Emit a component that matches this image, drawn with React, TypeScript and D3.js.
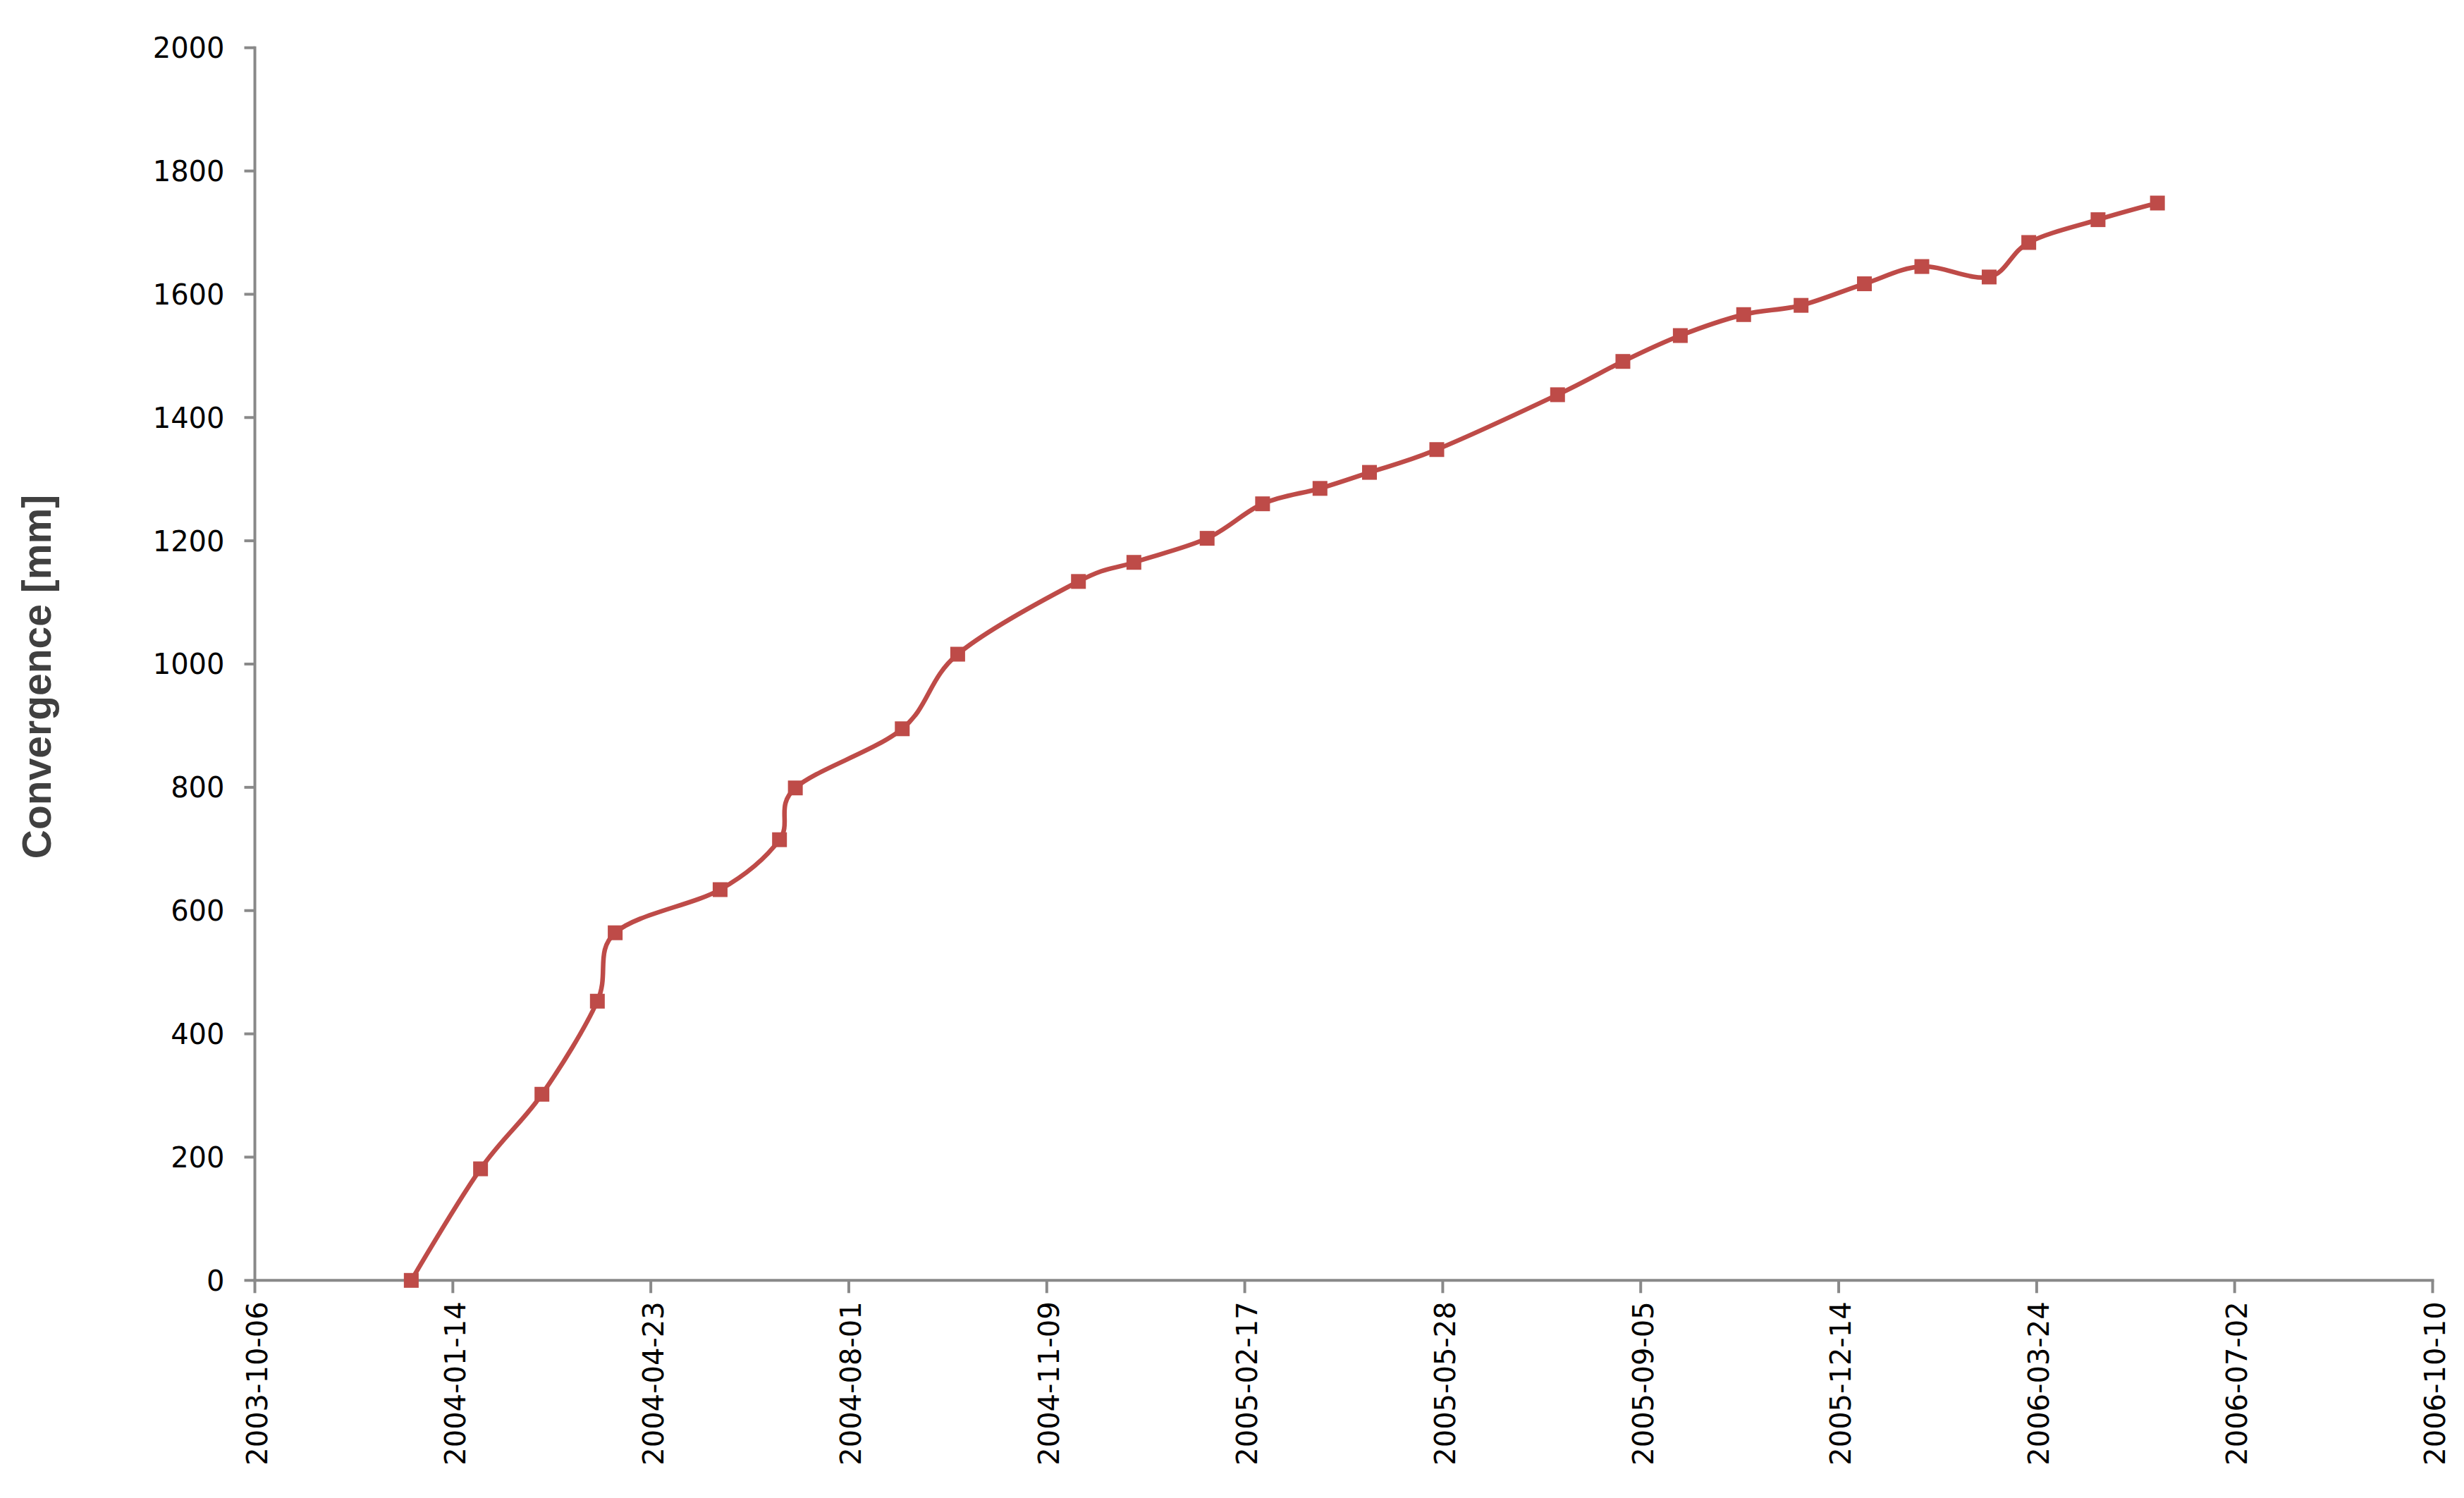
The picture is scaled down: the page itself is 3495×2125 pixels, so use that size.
import React from "react";
import * as d3 from "d3";

const measureDates: string[] = [
  "2003-12-24", "2004-01-28", "2004-02-28", "2004-03-27", "2004-04-05",
  "2004-05-28", "2004-06-27", "2004-07-05", "2004-08-28", "2004-09-25",
  "2004-11-25", "2004-12-23", "2005-01-29", "2005-02-26", "2005-03-27",
  "2005-04-21", "2005-05-25", "2005-07-25", "2005-08-27", "2005-09-25",
  "2005-10-27", "2005-11-25", "2005-12-27", "2006-01-25", "2006-02-28",
  "2006-03-20", "2006-04-24", "2006-05-24",
];

const convergence: number[] = [
  0, 181, 302, 453, 564, 634, 715, 799, 895, 1016,
  1134, 1165, 1204, 1260, 1285, 1311, 1348, 1437, 1491, 1533,
  1567, 1582, 1617, 1645, 1628, 1684, 1721, 1748,
];

const xTickLabels: string[] = [
  "2003-10-06", "2004-01-14", "2004-04-23", "2004-08-01", "2004-11-09",
  "2005-02-17", "2005-05-28", "2005-09-05", "2005-12-14", "2006-03-24",
  "2006-07-02", "2006-10-10",
];

const yTickValues: number[] = [0, 200, 400, 600, 800, 1000, 1200, 1400, 1600, 1800, 2000];

const yTitle = "Convergence [mm]";

const W = 3495;
const H = 2125;
const plotLeft = 361.5;
const plotRight = 3450.5;
const plotTop = 67.7;
const plotBottom = 1816.3;

const AXIS_COLOR = "#898989";
const SERIES_COLOR = "#BE4B48";

export default function App() {
  const parse = d3.utcParse("%Y-%m-%d");
  const x = d3
    .scaleUtc()
    .domain([parse(xTickLabels[0])!, parse(xTickLabels[xTickLabels.length - 1])!])
    .range([plotLeft, plotRight]);
  const y = d3.scaleLinear().domain([0, 2000]).range([plotBottom, plotTop]);

  const pts = measureDates.map((d, i) => ({ t: parse(d)!, v: convergence[i] }));
  const line = d3
    .line<{ t: Date; v: number }>()
    .x((d) => x(d.t))
    .y((d) => y(d.v))
    .curve(d3.curveCardinal.tension(0));

  const ms = 21;

  return (
    <svg
      width={W}
      height={H}
      style={{ position: "absolute", left: 0, top: 0, display: "block", background: "#fff" }}
    >
      <rect x={0} y={0} width={W} height={H} fill="#fff" />
      {yTickValues.map((v) => (
        <g key={"y" + v}>
          <line x1={plotLeft - 15} x2={plotLeft} y1={y(v)} y2={y(v)} stroke={AXIS_COLOR} strokeWidth={4} />
          <text
            x={plotLeft - 43}
            y={y(v)}
            dy="0.36em"
            textAnchor="end"
            fontFamily="'DejaVu Sans', sans-serif"
            fontSize={40}
            fill="#000"
          >
            {v}
          </text>
        </g>
      ))}
      {xTickLabels.map((s) => {
        const xx = x(parse(s)!);
        return (
          <g key={"x" + s}>
            <line x1={xx} x2={xx} y1={plotBottom} y2={plotBottom + 18} stroke={AXIS_COLOR} strokeWidth={4} />
            <text
              transform={`translate(${xx + 3},${plotBottom + 30}) rotate(-90)`}
              dy="0.36em"
              textAnchor="end"
              fontFamily="'DejaVu Sans', sans-serif"
              fontSize={40}
              fill="#000"
            >
              {s}
            </text>
          </g>
        );
      })}
      <line x1={plotLeft} x2={plotLeft} y1={plotTop - 2} y2={plotBottom + 2} stroke={AXIS_COLOR} strokeWidth={4} />
      <line x1={plotLeft - 2} x2={plotRight + 2} y1={plotBottom} y2={plotBottom} stroke={AXIS_COLOR} strokeWidth={4} />
      <text
        transform={`translate(72,960) rotate(-90)`}
        textAnchor="middle"
        fontFamily="'Liberation Sans', Arial, sans-serif"
        fontWeight="bold"
        fontSize={57}
        fill="#404040"
      >
        {yTitle}
      </text>
      <path d={line(pts) || ""} fill="none" stroke={SERIES_COLOR} strokeWidth={6.5} strokeLinejoin="round" strokeLinecap="round" />
      {pts.map((p, i) => (
        <rect
          key={"m" + i}
          x={x(p.t) - ms / 2}
          y={y(p.v) - ms / 2}
          width={ms}
          height={ms}
          fill={SERIES_COLOR}
        />
      ))}
    </svg>
  );
}
